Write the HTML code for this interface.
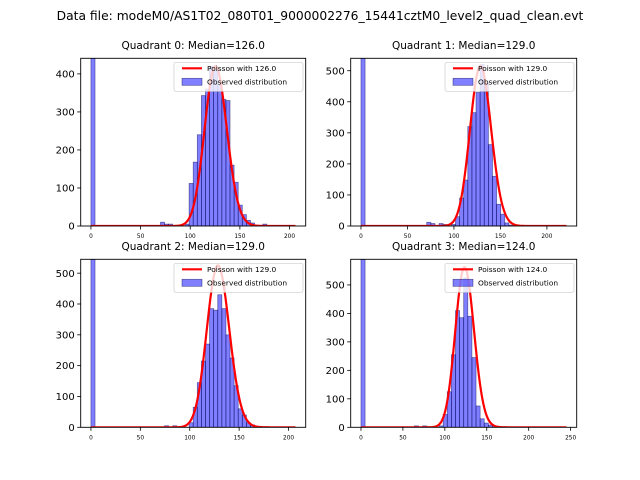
<!DOCTYPE html>
<html><head><meta charset="utf-8"><style>
html,body{margin:0;padding:0;background:#fff;}
svg{display:block;font-family:"DejaVu Sans","Liberation Sans",sans-serif;}
</style></head><body>
<svg id="fig" width="640" height="480" viewBox="0 0 640 480">
<rect x="0" y="0" width="640" height="480" fill="#fff"/>
<text x="320" y="20" font-size="12.3" text-anchor="middle">Data file: modeM0/AS1T02_080T01_9000002276_15441cztM0_level2_quad_clean.evt</text>
</svg>
<script>
// ---- data ----
const quadrantNames = ["Quadrant 0", "Quadrant 1", "Quadrant 2", "Quadrant 3"];
const medians = [126.0, 129.0, 129.0, 124.0];
const dataMax = [206, 221, 207, 245];
const yMax = [441, 540, 545, 590];
const poissonPeak = [420, 515, 525, 562];
const zeroBinCounts = [2000, 2000, 2000, 2000];
const counts0 = [0,0,0,0,0,0,0,0,0,0,0,0,0,0,0,0,0,10,5,5,0,0,0,5,112,168,240,343,360,420,410,370,333,330,160,115,55,30,15,8,2,0,5,0,0,0,0,0,0,0];
const counts1 = [0,0,0,0,0,0,0,0,0,0,0,0,0,0,0,0,12,8,0,8,5,0,5,30,90,148,320,365,430,520,460,262,160,70,38,10,3,0,0,0,0,0,0,0,0,0,0,0,0,0];
const counts2 = [0,0,0,0,0,0,0,0,0,0,0,0,0,0,0,0,0,0,5,0,5,0,0,0,15,65,145,215,270,385,380,430,385,300,225,135,60,40,15,8,3,0,0,0,0,0,0,0,0,0];
const counts3 = [0,0,0,0,0,0,0,0,0,0,0,0,0,5,0,5,0,0,0,5,45,125,255,410,385,525,390,245,75,30,15,8,5,0,0,0,0,0,0,0,0,0,0,0,0,0];
const yTicks0 = [0,100,200,300,400];
const yTicks = [0,100,200,300,400,500];
const xTicks = [0,50,100,150,200];
const xTicks3 = [0,50,100,150,200,250];

const allCounts = [counts0, counts1, counts2, counts3];
const allYTicks = [yTicks0, yTicks, yTicks, yTicks];
const allXTicks = [xTicks, xTicks, xTicks, xTicks3];
const boxes = [
  {x0:80.7, x1:305.7, y0:58.3, y1:226},
  {x0:350.7, x1:576.7, y0:58.3, y1:226},
  {x0:80.7, x1:305.7, y0:259.3, y1:427.3},
  {x0:350.7, x1:576.7, y0:259.3, y1:427.3}
];
const NS = "http://www.w3.org/2000/svg";
const fig = document.getElementById("fig");
function mk(tag, attrs, parent){
  const e = document.createElementNS(NS, tag);
  for (const k in attrs) e.setAttribute(k, attrs[k]);
  (parent||fig).appendChild(e);
  return e;
}
let clipId = 0;
for (let q = 0; q < 4; q++) {
  const b = boxes[q];
  const xmaxD = dataMax[q];
  const pad = xmaxD * 0.05;
  const xlo = -pad, xhi = xmaxD + pad;
  const sx = v => b.x0 + (v - xlo) / (xhi - xlo) * (b.x1 - b.x0);
  const sy = v => b.y1 - v / yMax[q] * (b.y1 - b.y0);
  const g = mk("g", {});
  
  
  const cid = "clip" + (clipId++);
  const cp = mk("clipPath", {id: cid}, g);
  mk("rect", {x:b.x0, y:b.y0, width:b.x1-b.x0, height:b.y1-b.y0}, cp);
  const plot = mk("g", {"clip-path": "url(#" + cid + ")"}, g);
  const bw = xmaxD / 50;
  const counts = allCounts[q];
  for (let i = 0; i < 50; i++) {
    const c = i === 0 ? zeroBinCounts[q] : counts[i];
    if (!c) continue;
    const x0 = sx(i * bw), x1 = sx((i + 1) * bw);
    const r = mk("rect", {x:x0, y:sy(c), width:x1-x0, height:sy(0)-sy(c), fill:"rgba(0,0,255,0.5)", stroke:"rgba(0,0,80,0.55)", "stroke-width":"0.7"}, plot);
    
    
  }
  const lam = medians[q];
  let lnf = 0, pts = [], maxp = 0, vals = [];
  for (let k = 0; k <= Math.ceil(xmaxD); k++) {
    if (k > 0) lnf += Math.log(k);
    const p = Math.exp(k * Math.log(lam) - lam - lnf);
    vals.push(p); if (p > maxp) maxp = p;
  }
  vals.forEach((p, k) => pts.push(sx(k).toFixed(2) + "," + sy(p / maxp * poissonPeak[q]).toFixed(2)));
  const line = mk("polyline", {points: pts.join(" "), fill:"none", stroke:"red", "stroke-width":"2.2"}, plot);
  
  
  const fr = mk("rect", {x:b.x0, y:b.y0, width:b.x1-b.x0, height:b.y1-b.y0, fill:"none", stroke:"#000", "stroke-width":"0.9"}, g);
  
  
  allYTicks[q].forEach(t => {
    const y = sy(t);
    mk("line", {x1:b.x0-3.5, x2:b.x0, y1:y, y2:y, stroke:"#000", "stroke-width":"0.8"}, g);
    const tx = mk("text", {x:b.x0-6, y:y+3.6, "font-size":"10", "text-anchor":"end"}, g);
    tx.textContent = t;
    
    
  });
  allXTicks[q].forEach(t => {
    const x = sx(t);
    mk("line", {x1:x, x2:x, y1:b.y1, y2:b.y1+3.5, stroke:"#000", "stroke-width":"0.8"}, g);
    const tx = mk("text", {x:x, y:b.y1+12, "font-size":"5.8", "text-anchor":"middle"}, g);
    tx.textContent = t;
    
    
  });
  const ti = mk("text", {x:(b.x0+b.x1)/2, y:b.y0-9.5, "font-size":"10.5", "text-anchor":"middle"}, g);
  ti.textContent = quadrantNames[q] + ": Median=" + medians[q].toFixed(1);
  
  
  const lg = mk("g", {}, g);
  
  
  const lx = b.x1 - 131.7, ly = b.y0 + 4;
  mk("rect", {x:lx, y:ly, width:129, height:29, rx:2, fill:"rgba(255,255,255,0.8)", stroke:"#ccc", "stroke-width":"0.7"}, lg);
  mk("line", {x1:lx+8, x2:lx+28, y1:ly+6, y2:ly+6, stroke:"red", "stroke-width":"2.2"}, lg);
  const t1 = mk("text", {x:lx+33, y:ly+8.5, "font-size":"7.4"}, lg);
  t1.textContent = "Poisson with " + medians[q].toFixed(1);
  
  
  mk("rect", {x:lx+8, y:ly+16, width:20, height:7, fill:"rgba(0,0,255,0.5)", stroke:"rgba(0,0,80,0.55)", "stroke-width":"0.7"}, lg);
  const t2 = mk("text", {x:lx+33, y:ly+22, "font-size":"7.4"}, lg);
  t2.textContent = "Observed distribution";
  
  
}
</script>
</body></html>
